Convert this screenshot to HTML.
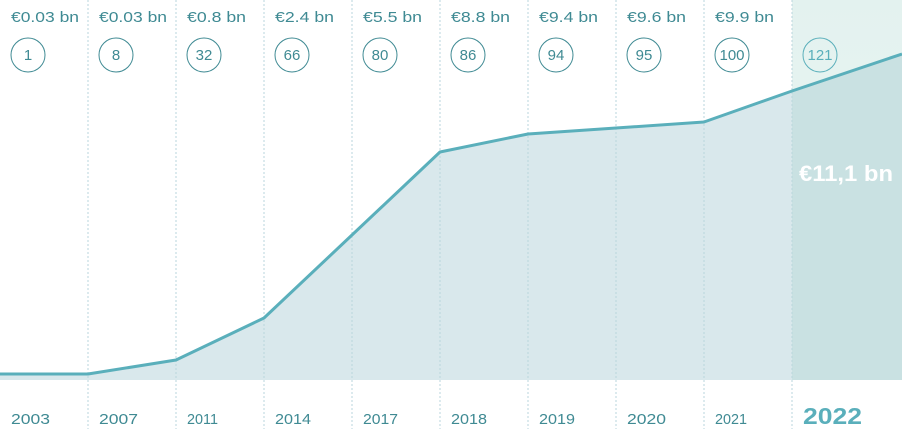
<!DOCTYPE html>
<html><head><style>
body{margin:0;background:#fff;}
svg{display:block;font-family:"Liberation Sans",sans-serif;}
</style></head><body>
<svg width="902" height="429" viewBox="0 0 902 429">
<defs>
<linearGradient id="g22" x1="0" y1="0" x2="0" y2="1">
<stop offset="0" stop-color="#e3f2ef"/><stop offset="1" stop-color="#eef7f5"/>
</linearGradient>
<clipPath id="c22"><rect x="792" y="0" width="110" height="380"/></clipPath>
<clipPath id="cm"><rect x="0" y="0" width="792" height="380"/></clipPath>
</defs>
<rect x="792" y="0" width="110" height="380" fill="url(#g22)"/>
<path d="M0,374 L88,374 L176,360 L264,318 L352,235 L440,152 L528,134 L616,128 L704,122 L792,91 L902,54 L902,380 L0,380Z" fill="#d9e8ec" clip-path="url(#cm)"/>
<path d="M0,374 L88,374 L176,360 L264,318 L352,235 L440,152 L528,134 L616,128 L704,122 L792,91 L902,54 L902,380 L0,380Z" fill="#c9e1e2" clip-path="url(#c22)"/>
<g stroke="#b9d6dc" stroke-width="1" stroke-dasharray="2,2">
<line x1="88" y1="0" x2="88" y2="429"/><line x1="176" y1="0" x2="176" y2="429"/>
<line x1="264" y1="0" x2="264" y2="429"/><line x1="352" y1="0" x2="352" y2="429"/>
<line x1="440" y1="0" x2="440" y2="429"/><line x1="528" y1="0" x2="528" y2="429"/>
<line x1="616" y1="0" x2="616" y2="429"/><line x1="704" y1="0" x2="704" y2="429"/>
<line x1="792" y1="0" x2="792" y2="429"/>
</g>
<polyline points="0,374 88,374 176,360 264,318 352,235 440,152 528,134 616,128 704,122 792,91 902,54" fill="none" stroke="#5aafbb" stroke-width="3" stroke-linejoin="round"/>
<g fill="#3f8a93" font-size="15">
<text x="11" y="22" textLength="68" lengthAdjust="spacingAndGlyphs">€0.03 bn</text><text x="99" y="22" textLength="68" lengthAdjust="spacingAndGlyphs">€0.03 bn</text>
<text x="187" y="22" textLength="59" lengthAdjust="spacingAndGlyphs">€0.8 bn</text><text x="275" y="22" textLength="59" lengthAdjust="spacingAndGlyphs">€2.4 bn</text>
<text x="363" y="22" textLength="59" lengthAdjust="spacingAndGlyphs">€5.5 bn</text><text x="451" y="22" textLength="59" lengthAdjust="spacingAndGlyphs">€8.8 bn</text>
<text x="539" y="22" textLength="59" lengthAdjust="spacingAndGlyphs">€9.4 bn</text><text x="627" y="22" textLength="59" lengthAdjust="spacingAndGlyphs">€9.6 bn</text>
<text x="715" y="22" textLength="59" lengthAdjust="spacingAndGlyphs">€9.9 bn</text>
</g>
<g fill="none" stroke="#3f8a93" stroke-width="1">
<circle cx="28" cy="55" r="17"/><circle cx="116" cy="55" r="17"/><circle cx="204" cy="55" r="17"/>
<circle cx="292" cy="55" r="17"/><circle cx="380" cy="55" r="17"/><circle cx="468" cy="55" r="17"/>
<circle cx="556" cy="55" r="17"/><circle cx="644" cy="55" r="17"/><circle cx="732" cy="55" r="17"/>
<circle cx="820" cy="55" r="17" stroke="#5aafbb"/>
</g>
<g fill="#3f8a93" font-size="15" text-anchor="middle">
<text x="28" y="60">1</text><text x="116" y="60">8</text><text x="204" y="60">32</text>
<text x="292" y="60">66</text><text x="380" y="60">80</text><text x="468" y="60">86</text>
<text x="556" y="60">94</text><text x="644" y="60">95</text><text x="732" y="60">100</text>
<text x="820" y="60" fill="#5aafbb">121</text>
</g>
<text x="799" y="181" fill="#fff" font-size="22" font-weight="bold" textLength="94" lengthAdjust="spacingAndGlyphs">€11,1 bn</text>
<g fill="#3f8a93" font-size="15">
<text x="11" y="424" textLength="39" lengthAdjust="spacingAndGlyphs">2003</text><text x="99" y="424" textLength="39" lengthAdjust="spacingAndGlyphs">2007</text><text x="187" y="424" textLength="31" lengthAdjust="spacingAndGlyphs">2011</text>
<text x="275" y="424" textLength="36" lengthAdjust="spacingAndGlyphs">2014</text><text x="363" y="424" textLength="35" lengthAdjust="spacingAndGlyphs">2017</text><text x="451" y="424" textLength="36" lengthAdjust="spacingAndGlyphs">2018</text>
<text x="539" y="424" textLength="36" lengthAdjust="spacingAndGlyphs">2019</text><text x="627" y="424" textLength="39" lengthAdjust="spacingAndGlyphs">2020</text><text x="715" y="424" textLength="32" lengthAdjust="spacingAndGlyphs">2021</text>
</g>
<text x="803" y="424" fill="#5aafbb" font-size="23" font-weight="bold" textLength="59" lengthAdjust="spacingAndGlyphs">2022</text>
</svg>
</body></html>
